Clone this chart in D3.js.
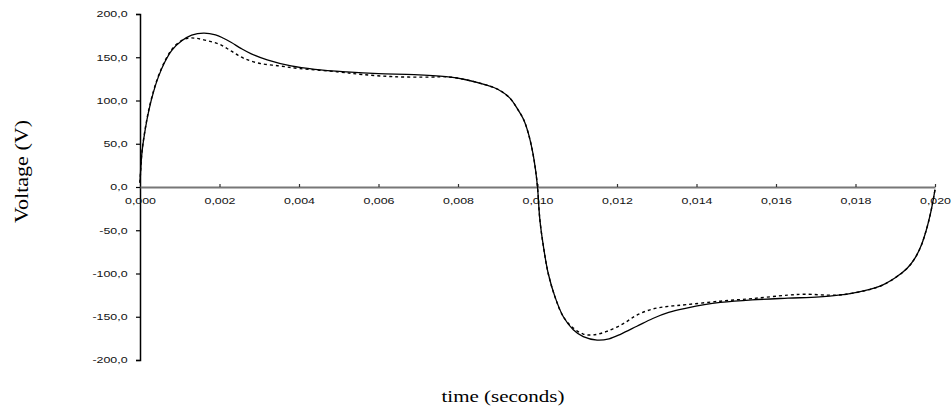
<!DOCTYPE html>
<html>
	<head>
		<script src="https://d3js.org/d3.v7.min.js"></script>
		<style>
			html, body {
				margin: 0;
				padding: 0;
				background: #fff;
			}
			.tick text {
				font-family: "Liberation Sans", Arial, sans-serif;
				font-size: 9px;
				fill: #111;
			}
			.title {
				font-family: "Liberation Serif", "Times New Roman", serif;
				fill: #000;
			}
		</style>
		<title>Voltage vs time</title>
	</head>
	<body>
		<svg id="chart" width="951" height="410"></svg>
		<script>
			// time in seconds, voltage in volts
			const timeSolid = [
				0, 0.00005, 0.00013, 0.00022, 0.00034, 0.00046, 0.00063, 0.0008, 0.00105, 0.0013,
				0.0016, 0.0019, 0.0021, 0.0023, 0.00255, 0.0028, 0.0032, 0.0038, 0.0044, 0.0052,
				0.006, 0.0069, 0.0077, 0.0082, 0.0087, 0.009, 0.0093, 0.0095, 0.00965, 0.00977,
				0.00988, 0.00995, 0.01, 0.01006, 0.01015, 0.01027, 0.01044, 0.01065, 0.0109, 0.01115,
				0.0115, 0.0118, 0.0121, 0.0125, 0.0129, 0.0133, 0.01375, 0.0142, 0.0146, 0.0154,
				0.0163, 0.0171, 0.0179, 0.0186, 0.019, 0.0193, 0.0195, 0.01965, 0.01978, 0.01988,
				0.01995, 0.02
			];
			const voltSolid = [
				5, 40, 66, 88, 110, 127, 145, 158, 169, 175.5,
				178, 176, 172, 167, 160, 154, 147, 140, 136, 133,
				131, 130, 127.5, 124, 118, 113, 103, 90, 78, 62,
				40, 20, 0, -38, -69, -100, -127, -150, -165, -173,
				-177, -175.5, -170, -161, -152, -145, -140, -136, -133.5, -130.5,
				-128.5, -127, -123, -115, -105, -94, -82, -68, -50, -32,
				-16, -3
			];

			const timeDashed = [
				0, 0.00005, 0.00013, 0.00022, 0.00034, 0.00046, 0.00063, 0.0008, 0.001, 0.0012,
				0.0014, 0.0017, 0.002, 0.0023, 0.0026, 0.003, 0.0035, 0.004, 0.005, 0.0056,
				0.0064, 0.0073, 0.0077, 0.0082, 0.0087, 0.009, 0.0093, 0.0095, 0.00965, 0.00977,
				0.00988, 0.00995, 0.01, 0.01006, 0.01015, 0.01027, 0.01044, 0.01065, 0.0109, 0.01115,
				0.0114, 0.01174, 0.01216, 0.0125, 0.0129, 0.0133, 0.01375, 0.0146, 0.0154, 0.0163,
				0.0167, 0.0175, 0.0179, 0.0186, 0.019, 0.0193, 0.0195, 0.01965, 0.01978, 0.01988,
				0.01995, 0.02
			];
			const voltDashed = [
				5, 41, 67, 89, 111, 128, 146, 159, 168, 172,
				172, 169, 165, 157, 149, 143, 140, 137, 133, 130,
				127.5, 127, 127.5, 124, 118, 113, 103, 90, 78, 62,
				40, 20, 0, -38, -69, -100, -127, -150, -163, -170,
				-171, -167, -158, -148, -141, -138, -136, -132, -129, -125,
				-124, -125, -123, -115, -105, -94, -82, -68, -50, -32,
				-16, -3
			];

			const xTicks = [0, 0.002, 0.004, 0.006, 0.008, 0.01, 0.012, 0.014, 0.016, 0.018, 0.02];
			const yTicks = [200, 150, 100, 50, 0, -50, -100, -150, -200];

			const stretch = 1.38; // the source picture is wider than tall, text looks stretched

			const svg = d3.select("#chart");

			const x = d3.scaleLinear().domain([0, 0.02]).range([140, 935]);
			const y = d3.scaleLinear().domain([-200, 200]).range([360, 14]);

			// decimal comma, plain hyphen minus
			const locale = d3.formatLocale({
				decimal: ",",
				thousands: ".",
				grouping: [3],
				currency: ["", ""],
				minus: "-",
			});
			const fx = locale.format(".3f"),
				fy = locale.format(".1f");

			/* y axis */
			const gy = svg
				.append("g")
				.attr("transform", `translate(${x(0)},0)`)
				.call(d3.axisLeft(y).tickValues(yTicks).tickFormat(fy).tickSize(4).tickPadding(5));
			gy.select(".domain").attr("stroke", "#000").attr("stroke-width", 1.5);
			gy.selectAll(".tick line").attr("stroke", "#000").attr("stroke-width", 1.2);
			gy.selectAll(".tick text")
				.attr("x", -9)
				.attr("transform", `scale(${stretch},1)`);

			/* x axis sitting on zero */
			const gx = svg
				.append("g")
				.attr("transform", `translate(0,${y(0)})`)
				.call(d3.axisBottom(x).tickValues(xTicks).tickFormat(fx).tickSizeInner(-3).tickSizeOuter(0));
			gx.select(".domain").attr("stroke", "#777").attr("stroke-width", 1.8);
			gx.selectAll(".tick line").attr("stroke", "#333").attr("stroke-width", 1.2);
			gx.selectAll(".tick text")
				.attr("y", 11)
				.attr("transform", `scale(${stretch},1)`);
			gx.selectAll(".tick")
				.filter((d) => d === 0)
				.select("line")
				.remove();

			/* curves */
			const line = d3
				.line()
				.x((d) => x(d[0]))
				.y((d) => y(d[1]))
				.curve(d3.curveCatmullRom.alpha(0.5));

			svg.append("path")
				.datum(d3.zip(timeDashed, voltDashed))
				.attr("fill", "none")
				.attr("stroke", "#000")
				.attr("stroke-width", 1.4)
				.attr("stroke-dasharray", "3,3")
				.attr("d", line);

			svg.append("path")
				.datum(d3.zip(timeSolid, voltSolid))
				.attr("fill", "none")
				.attr("stroke", "#000")
				.attr("stroke-width", 1.3)
				.attr("d", line);

			/* axis titles */
			svg.append("text")
				.attr("class", "title")
				.attr("x", 503)
				.attr("y", 402)
				.attr("text-anchor", "middle")
				.attr("font-size", 16)
				.attr("textLength", 123)
				.attr("lengthAdjust", "spacingAndGlyphs")
				.text("time (seconds)");

			svg.append("text")
				.attr("class", "title")
				.attr("transform", "translate(28,171.5) rotate(-90)")
				.attr("text-anchor", "middle")
				.attr("font-size", 18)
				.attr("textLength", 103)
				.attr("lengthAdjust", "spacingAndGlyphs")
				.text("Voltage (V)");
		</script>
	</body>
</html>
